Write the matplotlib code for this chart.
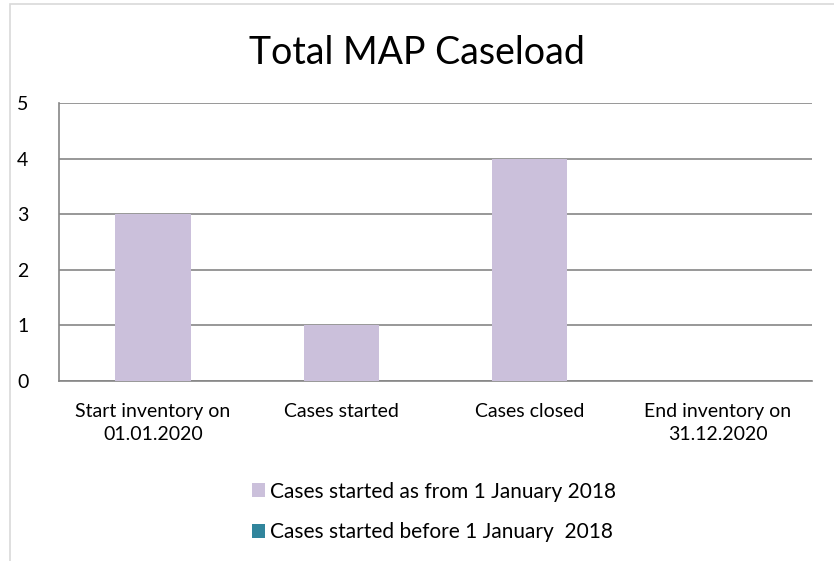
import numpy as np
import matplotlib.pyplot as plt
from matplotlib.patches import Rectangle

categories = ["Start inventory on\n01.01.2020", "Cases started", "Cases closed", "End inventory on\n31.12.2020"]
from_2018 = [3, 1, 4, 0]
before_2018 = [0, 0, 0, 0]
series_names = ["Cases started as from 1 January 2018", "Cases started before 1 January  2018"]
colors = ["#CBC0DB", "#31859C"]
grid_color = "#868686"

plt.rcParams['font.family'] = ['Lato', 'DejaVu Sans']

fig = plt.figure(figsize=(8.34, 5.61), dpi=100)
ax = fig.add_axes([0.0707, 0.3209, 0.9029, 0.4955])

x = np.arange(len(categories))
b1 = ax.bar(x, from_2018, width=0.4, color=colors[0], label=series_names[0], zorder=3)
b2 = ax.bar(x, before_2018, width=0.4, bottom=from_2018, color=colors[1], label=series_names[1], zorder=3)

ax.set_xlim(-0.5, len(categories) - 0.5)
ax.set_ylim(0, 5)
ax.set_yticks(range(0, 6))
ax.set_xticks(x)
ax.set_xticklabels(categories, fontsize=14, linespacing=1.45)
ax.tick_params(axis='y', length=0, pad=22, labelsize=14)
ax.tick_params(axis='x', length=0, pad=16)
ax.yaxis.grid(True, color=grid_color, linewidth=1.2, zorder=0)
for s in ['top', 'right']:
    ax.spines[s].set_visible(False)
for s in ['left', 'bottom']:
    ax.spines[s].set_color(grid_color)
    ax.spines[s].set_linewidth(1.2)

fig.suptitle("Total MAP Caseload", fontsize=27, y=0.938)

ax.legend(handles=[b1, b2], loc='upper center', bbox_to_anchor=(0.52, 0.16), bbox_transform=fig.transFigure,
          ncol=1, frameon=False, fontsize=15, handlelength=0.65, handleheight=0.65, handletextpad=0.2,
          labelspacing=1.0, borderpad=0)

fig.patches.append(Rectangle((10 / 834, -0.02), 1.1, 1 - 4 / 561 + 0.02, transform=fig.transFigure,
                             fill=False, edgecolor="#D9D9D9", linewidth=1.2))

fig.savefig("out.png", dpi=100)
